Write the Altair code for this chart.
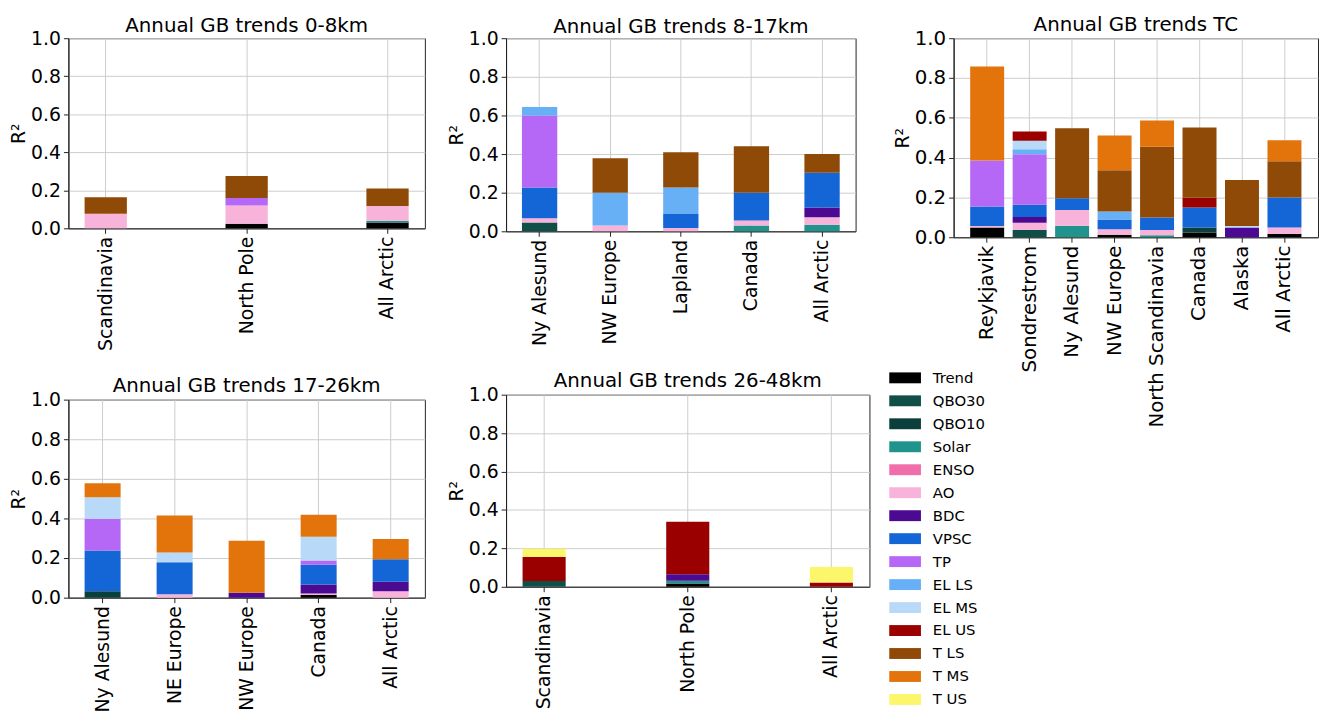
import altair as alt
import pandas as pd

FACTORS = ["Trend", "QBO30", "QBO10", "Solar", "ENSO", "AO", "BDC", "VPSC", "TP",
           "EL LS", "EL MS", "EL US", "T LS", "T MS", "T US"]
COLORS = ["#000000", "#0f4f47", "#0a3f3c", "#1f938c", "#f06eaa", "#f7b3d9", "#4b0a91",
          "#1466d6", "#b468f5", "#68b0f5", "#b8d9f7", "#9a0000", "#8f4a08", "#e3730b",
          "#fcf66b"]

P1_TITLE = "Annual GB trends 0-8km"
P1_SITES = ["Scandinavia", "North Pole", "All Arctic"]
P1_VALUES = {
    "Trend": [0.0, 0.024, 0.031],
    "Solar": [0.0, 0.0, 0.009],
    "AO":    [0.077, 0.096, 0.078],
    "TP":    [0.0, 0.040, 0.0],
    "T LS":  [0.086, 0.115, 0.092],
}

P2_TITLE = "Annual GB trends 8-17km"
P2_SITES = ["Ny Alesund", "NW Europe", "Lapland", "Canada", "All Arctic"]
P2_VALUES = {
    "QBO30": [0.046, 0.0, 0.0, 0.0, 0.0],
    "Solar": [0.0, 0.0, 0.0, 0.030, 0.034],
    "AO":    [0.022, 0.030, 0.017, 0.026, 0.039],
    "BDC":   [0.0, 0.0, 0.0, 0.0, 0.050],
    "VPSC":  [0.159, 0.0, 0.072, 0.144, 0.180],
    "TP":    [0.373, 0.0, 0.0, 0.0, 0.0],
    "EL LS": [0.044, 0.170, 0.138, 0.0, 0.0],
    "T LS":  [0.0, 0.178, 0.183, 0.240, 0.097],
}

P3_TITLE = "Annual GB trends TC"
P3_SITES = ["Reykjavik", "Sondrestrom", "Ny Alesund", "NW Europe", "North Scandinavia",
            "Canada", "Alaska", "All Arctic"]
P3_VALUES = {
    "Trend": [0.049, 0.0, 0.0, 0.013, 0.0, 0.024, 0.0, 0.016],
    "QBO30": [0.0, 0.037, 0.0, 0.0, 0.0, 0.0, 0.0, 0.0],
    "QBO10": [0.0, 0.0, 0.0, 0.0, 0.0, 0.025, 0.0, 0.0],
    "Solar": [0.0, 0.0, 0.058, 0.0, 0.010, 0.0, 0.0, 0.0],
    "AO":    [0.008, 0.036, 0.079, 0.027, 0.027, 0.0, 0.0, 0.033],
    "BDC":   [0.0, 0.029, 0.0, 0.0, 0.0, 0.0, 0.049, 0.0],
    "VPSC":  [0.097, 0.061, 0.059, 0.049, 0.062, 0.101, 0.0, 0.151],
    "TP":    [0.231, 0.254, 0.0, 0.0, 0.0, 0.0, 0.0, 0.0],
    "EL LS": [0.0, 0.025, 0.0, 0.040, 0.0, 0.0, 0.0, 0.0],
    "EL MS": [0.0, 0.043, 0.0, 0.0, 0.0, 0.0, 0.008, 0.0],
    "EL US": [0.0, 0.046, 0.0, 0.0, 0.0, 0.049, 0.0, 0.0],
    "T LS":  [0.0, 0.0, 0.351, 0.208, 0.356, 0.353, 0.231, 0.182],
    "T MS":  [0.473, 0.0, 0.0, 0.174, 0.132, 0.0, 0.0, 0.105],
}

P4_TITLE = "Annual GB trends 17-26km"
P4_SITES = ["Ny Alesund", "NE Europe", "NW Europe", "Canada", "All Arctic"]
P4_VALUES = {
    "Trend": [0.0, 0.0, 0.0, 0.013, 0.0],
    "QBO10": [0.033, 0.0, 0.0, 0.0, 0.0],
    "AO":    [0.0, 0.017, 0.0, 0.008, 0.033],
    "BDC":   [0.0, 0.0, 0.025, 0.045, 0.048],
    "VPSC":  [0.205, 0.162, 0.0, 0.100, 0.113],
    "TP":    [0.161, 0.0, 0.0, 0.022, 0.0],
    "EL MS": [0.108, 0.049, 0.0, 0.119, 0.0],
    "T MS":  [0.071, 0.187, 0.262, 0.112, 0.102],
}

P5_TITLE = "Annual GB trends 26-48km"
P5_SITES = ["Scandinavia", "North Pole", "All Arctic"]
P5_VALUES = {
    "Trend": [0.0, 0.017, 0.0],
    "QBO30": [0.030, 0.0, 0.0],
    "Solar": [0.0, 0.014, 0.0],
    "BDC":   [0.0, 0.034, 0.0],
    "EL US": [0.125, 0.273, 0.022],
    "T US":  [0.043, 0.0, 0.081],
}

FONT = "DejaVu Sans"
COLOR_SCALE = alt.Scale(domain=FACTORS, range=COLORS)


def make_df(sites, values):
    rows = []
    for i, f in enumerate(FACTORS):
        vals = values.get(f)
        if vals is None:
            continue
        for s, v in zip(sites, vals):
            if v > 0:
                rows.append({"site": s, "factor": f, "idx": i, "value": v})
    return pd.DataFrame(rows)


def bars(sites, values, pi, po, font=19):
    df = make_df(sites, values)
    return alt.Chart(df).mark_bar().encode(
        x=alt.X("site:N", sort=sites,
                scale=alt.Scale(domain=sites, paddingInner=pi, paddingOuter=po),
                axis=alt.Axis(title=None, labelAngle=-90, bandPosition=0.5,
                              labelFontSize=font, labelPadding=3, labelLimit=400)),
        y=alt.Y("value:Q", stack="zero",
                scale=alt.Scale(domain=[0, 1], nice=False),
                axis=alt.Axis(title="R²", values=[0, 0.2, 0.4, 0.6, 0.8, 1.0],
                              format=".1f", labelFontSize=font, titlePadding=2,
                              labelPadding=3)),
        color=alt.Color("factor:N", scale=COLOR_SCALE, legend=None),
        order=alt.Order("idx:Q", sort="ascending"),
    )


def ttl(text, offset):
    return alt.Title(text, fontSize=20, offset=offset, anchor="middle", frame="group",
                     font=FONT, fontWeight="normal", color="black")


# legend (drawn as its own marks, attached to the TC panel's layer)
leg_df = pd.DataFrame({"factor": FACTORS})
leg_base = alt.Chart(leg_df).encode(
    y=alt.Y("factor:N", sort=FACTORS,
            scale=alt.Scale(domain=FACTORS, range=[331.4, 679.4], paddingInner=0,
                            paddingOuter=0),
            axis=None)
)
leg_sym = leg_base.mark_bar(size=11).encode(
    x=alt.value(-65), x2=alt.value(-33),
    color=alt.Color("factor:N", scale=COLOR_SCALE, legend=None),
)
leg_txt = leg_base.mark_text(align="left", baseline="middle", fontSize=15, font=FONT,
                             color="black").encode(x=alt.value(-21), text="factor:N")

p1 = bars(P1_SITES, P1_VALUES, 0.7, 0.115).properties(
    width=360, height=192, title=ttl(P1_TITLE, -7))
p2 = bars(P2_SITES, P2_VALUES, 0.5, 0.225).properties(
    width=353, height=195, title=ttl(P2_TITLE, -8))
p3 = alt.layer(
    bars(P3_SITES, P3_VALUES, 0.2, 0.39, font=20), leg_sym, leg_txt
).resolve_scale(y="independent").properties(
    width=368, height=201, title=ttl(P3_TITLE, -7))
p4 = bars(P4_SITES, P4_VALUES, 0.5, 0.225).properties(
    width=360, height=200, title=ttl(P4_TITLE, -5))
p5 = bars(P5_SITES, P5_VALUES, 0.7, 0.115).properties(
    width=367, height=194, title=ttl(P5_TITLE, -5))

col1 = alt.vconcat(p1, p4, spacing=24)
col2 = alt.vconcat(p2, p5, spacing=23)

chart = alt.hconcat(alt.hconcat(col1, col2, spacing=21), p3, spacing=18).properties(
    padding={"left": 1, "top": 3, "right": 0, "bottom": 0}
).configure_view(
    stroke="#222222", strokeWidth=1
).configure_axis(
    grid=True, gridColor="#cccccc", gridWidth=1,
    domainColor="#222222", tickColor="#222222", tickSize=5,
    labelFont=FONT, labelColor="black", titleFont=FONT, titleColor="black",
    titleFontSize=19, titleFontWeight="normal", zindex=1,
)

chart.save("out.html", embed_options={"renderer": "svg", "actions": False})
